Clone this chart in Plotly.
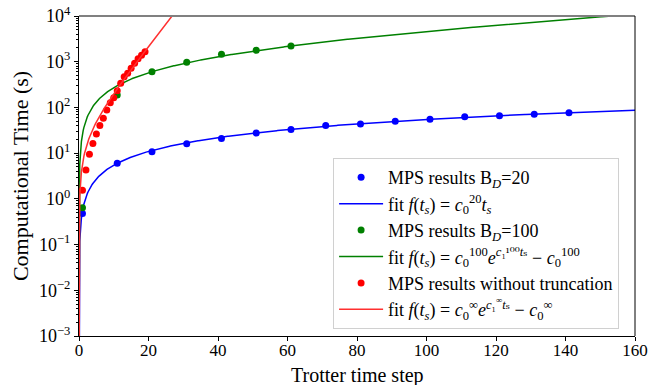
import numpy as np
import plotly.graph_objects as go

# Measured computational times (s) per Trotter time step
steps_bd20 = [1, 11, 21, 31, 41, 51, 61, 71, 81, 91, 101, 111, 121, 131, 141]
time_bd20 = [0.48, 6.0, 10.7, 16.1, 21.0, 27.5, 33.0, 40.0, 43.4, 49.7, 55.0, 62.7, 66.0, 70.6, 76.6]

steps_bd100 = [1, 11, 21, 31, 41, 51, 61]
time_bd100 = [0.64, 187, 605, 970, 1450, 1775, 2210]

steps_full = list(range(1, 20))
time_full = [1.55, 4.3, 9.5, 16.3, 26.2, 40, 58, 88, 127, 163, 233, 336, 470, 560, 716,
             930, 1160, 1380, 1660]

# Fit parameters
c0_20 = 0.545
c0_100, c1_100 = 2400.0, 0.0107
c0_inf, c1_inf = 22.6, 0.228

t = np.concatenate([np.geomspace(1e-5, 1, 300), np.linspace(1, 160, 800)[1:]])
fit_bd20 = c0_20 * t
fit_bd100 = c0_100 * np.exp(c1_100 * t) - c0_100
fit_full = c0_inf * np.exp(c1_inf * t) - c0_inf

FONT = "Liberation Serif, Times New Roman, DejaVu Serif, serif"
BLUE, GREEN, RED = "#0000ff", "#008000", "#ff0000"

fig = go.Figure()
fig.add_trace(go.Scatter(x=steps_bd20, y=time_bd20, mode="markers",
                         marker=dict(color=BLUE, size=7),
                         name="MPS results B<sub><i>D</i></sub>=20", cliponaxis=False))
fig.add_trace(go.Scatter(x=t, y=fit_bd20, mode="lines", line=dict(color=BLUE, width=1.5),
                         name="fit <i>f</i>(<i>t<sub>s</sub></i>) = <i>c</i><sub>0</sub><sup>20</sup><i>t<sub>s</sub></i>"))
fig.add_trace(go.Scatter(x=steps_bd100, y=time_bd100, mode="markers",
                         marker=dict(color=GREEN, size=7),
                         name="MPS results B<sub><i>D</i></sub>=100", cliponaxis=False))
fig.add_trace(go.Scatter(x=t, y=fit_bd100, mode="lines", line=dict(color=GREEN, width=1.5),
                         name="fit <i>f</i>(<i>t<sub>s</sub></i>) = <i>c</i><sub>0</sub><sup>100</sup><i>e</i><sup><i>c</i>₁¹⁰⁰<i>t</i>ₛ</sup> − <i>c</i><sub>0</sub><sup>100</sup>"))
fig.add_trace(go.Scatter(x=steps_full, y=time_full, mode="markers",
                         marker=dict(color=RED, size=7),
                         name="MPS results without truncation", cliponaxis=False))
fig.add_trace(go.Scatter(x=t, y=fit_full, mode="lines", line=dict(color="#ff3030", width=1.5),
                         name="fit <i>f</i>(<i>t<sub>s</sub></i>) = <i>c</i><sub>0</sub><sup>∞</sup><i>e</i><sup><i>c</i>₁<sup>∞</sup><i>t</i>ₛ</sup> − <i>c</i><sub>0</sub><sup>∞</sup>"))

exps = list(range(-3, 5))
major_vals = [10.0 ** e for e in exps]
major_text = ["10<sup>%s</sup>" % (str(e) if e >= 0 else "−" + str(-e)) for e in exps]
minor_vals = [m * 10.0 ** e for e in exps[:-1] for m in range(2, 10)]

fig.update_layout(
    width=652, height=385,
    margin=dict(l=79, r=17, t=16, b=49),
    paper_bgcolor="white", plot_bgcolor="white",
    font=dict(family=FONT, color="black", size=17),
    showlegend=True,
    legend=dict(x=0.457, y=0.556, xanchor="left", yanchor="top",
                bgcolor="rgba(255,255,255,0.85)", bordercolor="#d0d0d0", borderwidth=1,
                font=dict(family=FONT, size=18), tracegroupgap=0, itemwidth=44),
    xaxis=dict(range=[0, 160], tickmode="array", tickvals=list(range(0, 161, 20)),
               showgrid=False, zeroline=False, showline=True, linecolor="black", linewidth=1,
               ticks="outside", ticklen=4, tickcolor="black", automargin=False,
               ticklabelstandoff=-5),
    yaxis=dict(type="log", range=[-3, 4], tickmode="array", tickvals=major_vals, ticktext=major_text,
               showgrid=False, zeroline=False, showline=True, linecolor="black", linewidth=1,
               ticks="outside", ticklen=4, tickcolor="black", automargin=False,
               tickfont=dict(size=18),
               minor=dict(tickmode="array", tickvals=minor_vals, ticks="outside", ticklen=2,
                          tickcolor="black", showgrid=False),
               title=dict(text="Computational Time (s)", font=dict(size=22), standoff=4)),
    annotations=[
        dict(text="Trotter time step", xref="paper", yref="paper", x=0.5, y=0,
             xanchor="center", yanchor="top", yshift=-26, showarrow=False,
             font=dict(family=FONT, size=20)),
    ],
    shapes=[
        dict(type="line", xref="paper", yref="paper", x0=0, x1=1, y0=1, y1=1,
             line=dict(color="#808080", width=2)),
        dict(type="line", xref="paper", yref="paper", x0=1, x1=1, y0=0, y1=1,
             line=dict(color="black", width=1)),
    ],
)

fig.write_html("out.html")
